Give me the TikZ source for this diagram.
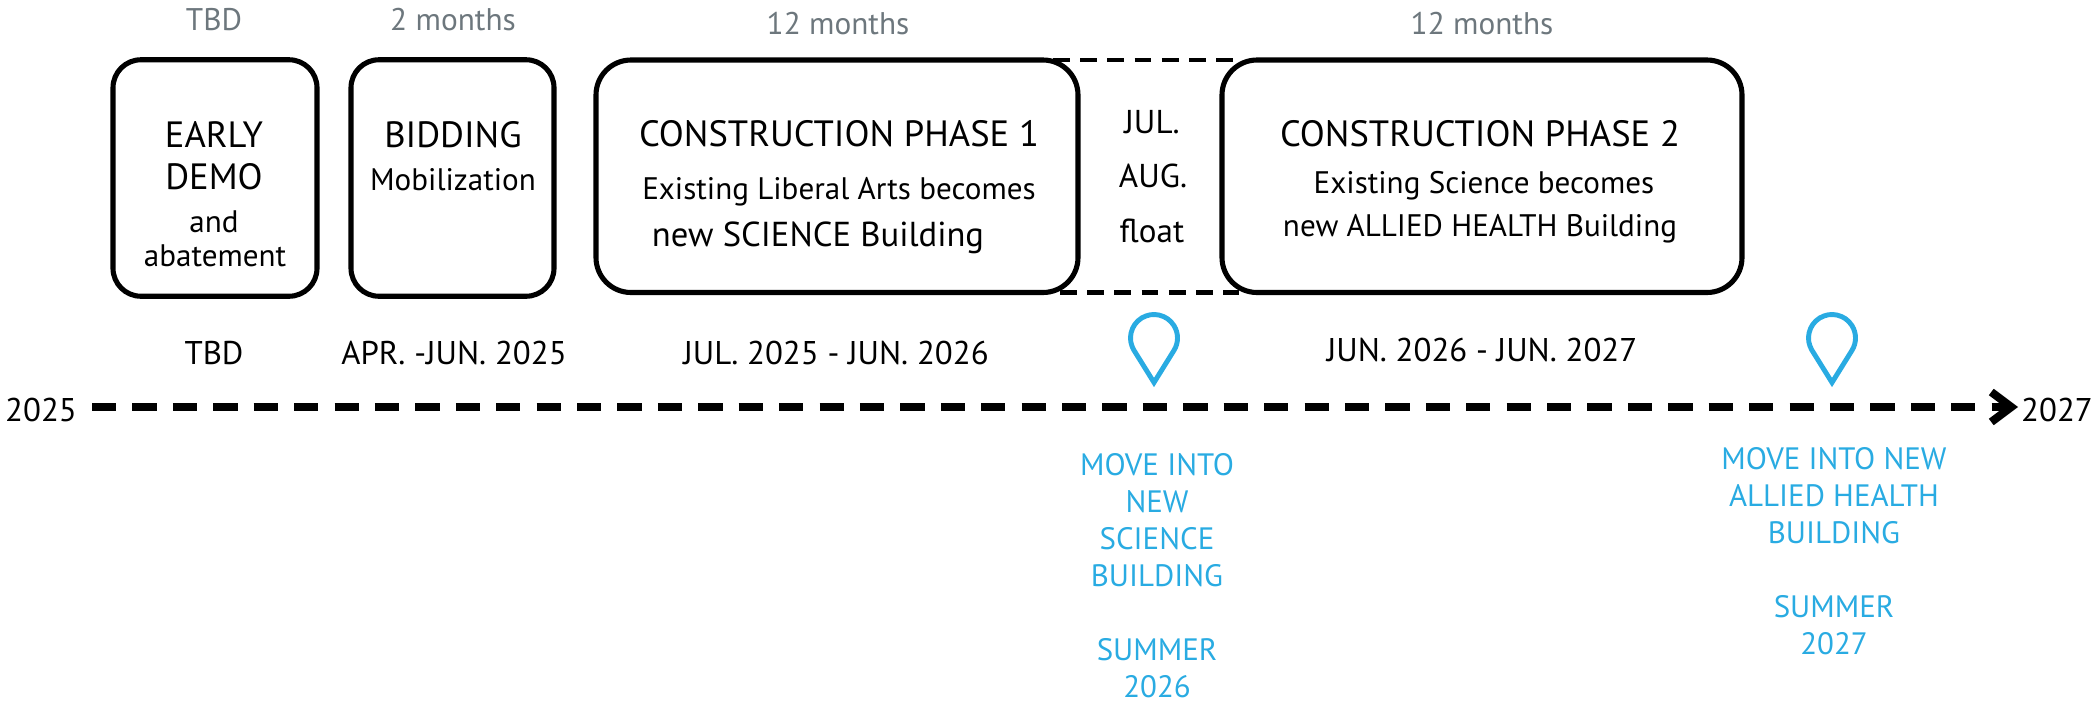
\documentclass[tikz,border=0pt]{standalone}
\usepackage{fontspec}
\setmainfont{PT Sans}
\usetikzlibrary{arrows.meta}
\definecolor{pinblue}{HTML}{29ABE2}
\definecolor{spangray}{HTML}{6D777D}
\tikzset{
  stagebox/.style={draw,line width=1.45pt,fill=white,inner sep=0pt},
  bigtext/.style={font=\fontsize{10.4}{12}\selectfont,inner sep=0pt},
  smalltext/.style={font=\fontsize{8.85}{11}\selectfont,inner sep=0pt},
  widetext/.style={font=\fontsize{9.85}{11}\selectfont,inner sep=0pt},
  floattext/.style={font=\fontsize{9.4}{11}\selectfont,inner sep=0pt},
  spanlabel/.style={font=\fontsize{8.9}{11}\selectfont,text=spangray,inner sep=0pt},
  datelabel/.style={font=\fontsize{9.35}{11}\selectfont,inner sep=0pt},
  movelabel/.style={font=\fontsize{8.8}{10.5}\selectfont,text=pinblue,align=center,anchor=north,inner sep=0pt},
  floatline/.style={line width=1.3pt,dash pattern=on 4.75pt off 3pt},
  timeline/.style={line width=2.3pt,dash pattern=on 6.9pt off 4.6pt}
}
\begin{document}
\begin{tikzpicture}
        \useasboundingbox (0,0) rectangle (20.95,-7.01);
        % dashed edges of the float gap go under the boxes
        \coordinate (floattop) at (12.33,-0.60);
        \coordinate (floatbot) at (12.39,-2.925);
        \node[stagebox,rounded corners=0.28cm,minimum width=2.04cm,minimum height=2.365cm] (earlydemo) at (2.15,-1.78) {};
        \node[stagebox,rounded corners=0.28cm,minimum width=2.03cm,minimum height=2.365cm] (bidding) at (4.525,-1.78) {};
        \draw[floatline] (10.53,-0.60) -- (floattop);
        \draw[floatline] (10.60,-2.925) -- (floatbot);
        \node[stagebox,rounded corners=0.35cm,minimum width=4.82cm,minimum height=2.325cm] (phaseone) at (8.37,-1.7625) {};
        \node[stagebox,rounded corners=0.35cm,minimum width=5.20cm,minimum height=2.325cm] (phasetwo) at (14.82,-1.7625) {};

        \node[spanlabel] (spanearly) at (2.14,-0.20) {TBD};
        \node[spanlabel] (spanbid) at (4.53,-0.20) {2 months};
        \node[spanlabel] (spanone) at (8.38,-0.24) {12 months};
        \node[spanlabel] (spantwo) at (14.82,-0.24) {12 months};

        \node[bigtext] (early) at (2.14,-1.34) {EARLY};
        \node[bigtext] (demo) at (2.14,-1.77) {DEMO};
        \node[smalltext] (and) at (2.14,-2.22) {and};
        \node[smalltext] (abate) at (2.15,-2.56) {abatement};
        \node[bigtext] (bid) at (4.53,-1.35) {BIDDING};
        \node[smalltext] (mobil) at (4.53,-1.80) {Mobilization};
        \node[bigtext] (titleone) at (8.39,-1.34) {CONSTRUCTION PHASE 1};
        \node[smalltext] (lineonea) at (8.39,-1.92) {Existing Liberal Arts becomes};
        \node[widetext] (lineoneb) at (8.18,-2.38) {new SCIENCE Building};
        \node[bigtext] (titletwo) at (14.80,-1.34) {CONSTRUCTION PHASE 2};
        \node[smalltext] (linetwoa) at (14.84,-1.86) {Existing Science becomes};
        \node[smalltext] (linetwob) at (14.80,-2.29) {new ALLIED HEALTH Building};
        \node[floattext] (jul) at (11.52,-1.22) {JUL.};
        \node[floattext] (aug) at (11.53,-1.76) {AUG.};
        \node[floattext] (float) at (11.52,-2.31) {float};

        \node[datelabel] (dateearly) at (2.14,-3.53) {TBD};
        \node[datelabel] (datebid) at (4.54,-3.53) {APR. -JUN. 2025};
        \node[datelabel] (dateone) at (8.36,-3.53) {JUL. 2025 - JUN. 2026};
        \node[datelabel] (datetwo) at (14.82,-3.50) {JUN. 2026 - JUN. 2027};

        \node[datelabel] (startyear) at (0.41,-4.10) {2025};
        \node[datelabel] (endyear) at (20.57,-4.10) {2027};
        \coordinate (linestart) at (0.92,-4.07);
        \coordinate (lineend) at (20.18,-4.07);
        \draw[timeline,-{Straight Barb[length=0.2cm,width=0.3cm,line width=2.3pt]}] (linestart) -- (lineend);

        \foreach \x in {11.54, 18.32} {
          \draw[pinblue,line width=1.4pt] (\x,-3.38) ++(212:0.235) arc[start angle=212,end angle=-32,radius=0.235] -- (\x,-3.825) -- cycle;
        }

        \node[movelabel] (moveone) at (11.57,-4.53) {MOVE INTO\\NEW\\SCIENCE\\BUILDING\\~\\SUMMER\\2026};
        \node[movelabel] (movetwo) at (18.34,-4.47) {MOVE INTO NEW\\ALLIED HEALTH\\BUILDING\\~\\SUMMER\\2027};
      \end{tikzpicture}
\end{document}
